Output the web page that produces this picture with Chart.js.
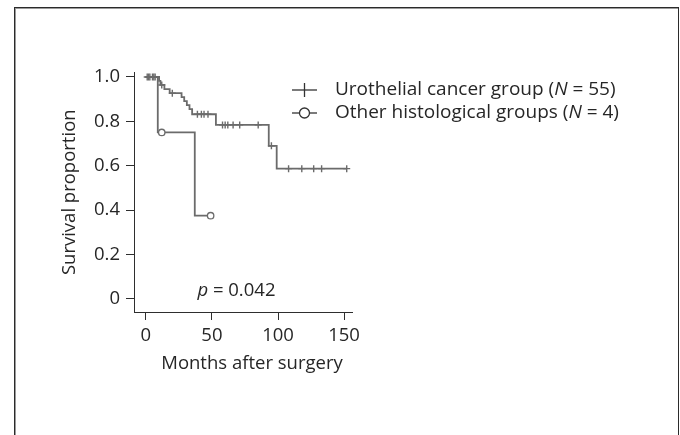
<!DOCTYPE html>
<html>
<head>
<meta charset="utf-8">
<script src="https://cdn.jsdelivr.net/npm/chart.js@4"></script>
<style>
  html, body { margin: 0; padding: 0; background: #fff; }
  #wrap { position: relative; width: 680px; height: 435px; overflow: hidden; }
  #frame { position: absolute; left: 14px; top: 7px; width: 665px; height: 460px;
           border: 1px solid #2b2b2b; box-shadow: inset 1px 1px 0 #9a9a9a; box-sizing: border-box; }
  canvas { position: absolute; left: 0; top: 0; }
</style>
</head>
<body>
<div id="wrap">
  <div id="frame"></div>
  <canvas id="km" width="680" height="435"></canvas>
</div>
<script>
// Kaplan-Meier survival, urothelial cancer group (N = 55)
const uroMonths    = [0, 1, 2, 3, 5, 6, 7, 10, 11, 12, 14, 18, 20, 27, 29, 31, 33, 35, 39, 42, 44, 47, 53, 58, 60, 62, 66, 71, 85, 93, 95, 99, 108, 118, 127, 133, 152];
const uroSurvival  = [1, 1, 1, 1, 1, 1, 1, 0.982, 0.964, 0.964, 0.945, 0.927, 0.927, 0.909, 0.891, 0.873, 0.855, 0.832, 0.832, 0.832, 0.832, 0.832, 0.784, 0.784, 0.784, 0.784, 0.784, 0.784, 0.784, 0.690, 0.690, 0.587, 0.587, 0.587, 0.587, 0.587, 0.587];
const uroCensored  = [0, 1, 1, 1, 1, 1, 1, 0, 0, 1, 0, 0, 1, 0, 0, 0, 0, 0, 1, 1, 1, 1, 0, 1, 1, 1, 1, 1, 1, 0, 1, 0, 1, 1, 1, 1, 1];

// Kaplan-Meier survival, other histological groups (N = 4)
const othMonths    = [0, 9, 12, 37, 49];
const othSurvival  = [1, 0.75, 0.75, 0.375, 0.375];
const othCensored  = [0, 0, 1, 0, 1];

const groupNames = ['Urothelial cancer group', 'Other histological groups'];
const groupSizes = [55, 4];
const pValueText = '0.042';
const xTitle = 'Months after surgery';
const yTitle = 'Survival proportion';

const xTicks = [0, 50, 100, 150];
const yTicks = [0, 0.2, 0.4, 0.6, 0.8, 1.0];

const FONT = "'Open Sans', 'Noto Sans', 'DejaVu Sans', sans-serif";
const FS = 18.5;
const LEGEND_FS = 19;
const TEXT = '#262626';
const AXIS = '#2e2e2e';
const LINE = '#6b6b6b';

function toPoints(months, surv) {
  return months.map((m, i) => ({ x: m, y: surv[i] }));
}

// Legend with line + marker samples, x-axis caption and the log-rank p value
const annotations = {
  id: 'annotations',
  afterDatasetsDraw(chart) {
    const ctx = chart.ctx;
    const xs = chart.scales.x, ys = chart.scales.y;
    ctx.save();
    const rows = [90, 113];
    rows.forEach((yy, i) => {
      ctx.strokeStyle = '#333';
      ctx.lineWidth = 1.3;
      ctx.beginPath();
      ctx.moveTo(292, yy); ctx.lineTo(317, yy);
      ctx.stroke();
      const cx = 304.5;
      if (i === 0) {
        ctx.beginPath();
        ctx.moveTo(cx, yy - 7); ctx.lineTo(cx, yy + 7);
        ctx.stroke();
      } else {
        ctx.beginPath();
        ctx.arc(cx, yy, 5, 0, Math.PI * 2);
        ctx.fillStyle = '#fff';
        ctx.fill();
        ctx.stroke();
      }
      ctx.fillStyle = TEXT;
      ctx.textBaseline = 'middle';
      ctx.textAlign = 'left';
      let tx = 335;
      const parts = [
        [groupNames[i] + ' (', 'normal'],
        ['N', 'italic'],
        [' = ' + groupSizes[i] + ')', 'normal']
      ];
      parts.forEach(([s, st]) => {
        ctx.font = `${st} ${LEGEND_FS}px ${FONT}`;
        ctx.fillText(s, tx, yy);
        tx += ctx.measureText(s).width;
      });
    });

    // x-axis caption
    ctx.font = `normal ${FS}px ${FONT}`;
    ctx.textAlign = 'center';
    ctx.fillText(xTitle, 252, 364);

    // p value under the curves
    ctx.textAlign = 'left';
    let px = xs.getPixelForValue(39);
    const py = ys.getPixelForValue(0.038);
    ctx.font = `italic ${FS}px ${FONT}`;
    ctx.fillText('p', px, py);
    px += ctx.measureText('p').width;
    ctx.font = `normal ${FS}px ${FONT}`;
    ctx.fillText(' = ' + pValueText, px, py);
    ctx.restore();
  }
};

new Chart(document.getElementById('km'), {
  type: 'line',
  data: {
    datasets: [
      {
        label: groupNames[0],
        data: toPoints(uroMonths, uroSurvival),
        stepped: true,
        borderColor: LINE,
        borderWidth: 1.8,
        fill: false,
        pointStyle: 'cross',
        pointRadius: uroCensored.map(c => c ? 3.5 : 0),
        pointBorderColor: LINE,
        pointBorderWidth: 1.4,
        pointHoverRadius: 0,
        clip: false
      },
      {
        label: groupNames[1],
        data: toPoints(othMonths, othSurvival),
        stepped: true,
        borderColor: LINE,
        borderWidth: 1.8,
        fill: false,
        pointStyle: 'circle',
        pointRadius: othCensored.map(c => c ? 3.2 : 0),
        pointBorderColor: LINE,
        pointBackgroundColor: '#fff',
        pointBorderWidth: 1.3,
        pointHoverRadius: 0,
        clip: false
      }
    ]
  },
  options: {
    responsive: false,
    animation: false,
    events: [],
    layout: { padding: { top: 72.5, right: 328, bottom: 0, left: 0 } },
    plugins: { legend: { display: false }, tooltip: { enabled: false } },
    scales: {
      x: {
        type: 'linear',
        min: -9,
        max: 156,
        afterBuildTicks: s => { s.ticks = xTicks.map(v => ({ value: v })); },
        afterFit: s => { s.height = 123; },
        grid: { display: true, drawOnChartArea: false, drawTicks: true, tickLength: 8, tickColor: AXIS, tickWidth: 1 },
        border: { display: true, color: AXIS, width: 1 },
        ticks: { font: { family: FONT, size: FS }, color: TEXT, padding: 5, maxRotation: 0, autoSkip: false },
        title: { display: false }
      },
      y: {
        type: 'linear',
        min: -0.0586,
        max: 1.02,
        afterBuildTicks: s => { s.ticks = yTicks.map(v => ({ value: v })); },
        afterFit: s => { s.width = 134; },
        grid: { display: true, drawOnChartArea: false, drawTicks: true, tickLength: 8, tickColor: AXIS, tickWidth: 1 },
        border: { display: true, color: AXIS, width: 1 },
        ticks: { font: { family: FONT, size: FS }, color: TEXT, padding: 6,
                 callback: v => (v === 0 ? '0' : v.toFixed(1)) },
        title: { display: true, text: yTitle, font: { family: FONT, size: FS }, color: TEXT,
                 padding: { top: 59, bottom: 0 } }
      }
    }
  },
  plugins: [annotations]
});
</script>
</body>
</html>
